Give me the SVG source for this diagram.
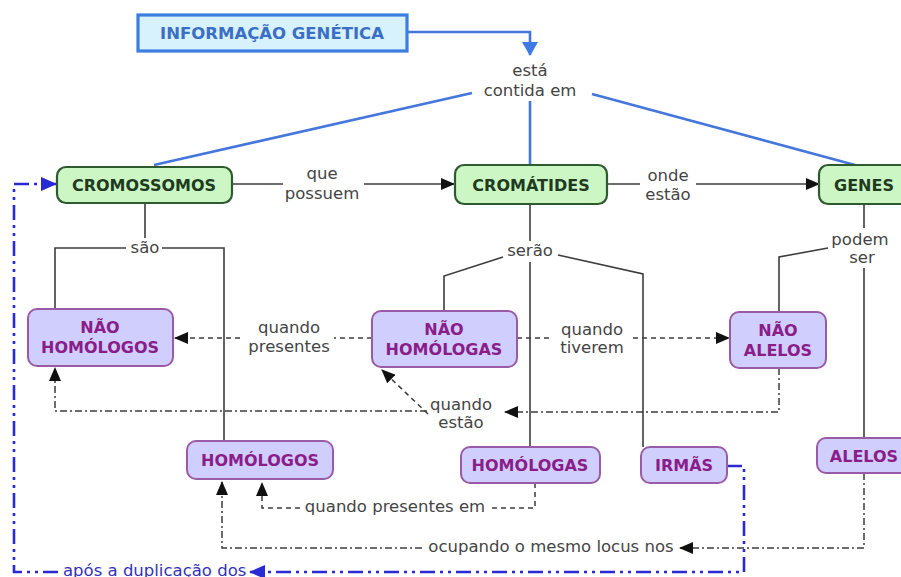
<svg xmlns="http://www.w3.org/2000/svg" width="901" height="577" viewBox="0 0 901 577">
<style>
text{font-family:"DejaVu Sans","Verdana",sans-serif;}
.lbl{font-size:16.5px;fill:#444;text-anchor:middle;}
.ng rect{fill:#ccf6c4;stroke:#2f5a2f;stroke-width:2.2;}
.ng text{font-size:16px;font-weight:bold;fill:#1f3b1f;text-anchor:middle;}
.np rect{fill:#d0cefc;stroke:#9a5ba6;stroke-width:2;}
.np text{font-size:16px;font-weight:bold;fill:#8a1d8a;text-anchor:middle;}
.c{fill:none;stroke:#3d3d3d;stroke-width:1.6;}
.cb{fill:none;stroke:#4576dc;stroke-width:2.6;}
.d{fill:none;stroke:#3d3d3d;stroke-width:1.5;stroke-dasharray:5,4;}
.dd{fill:none;stroke:#3d3d3d;stroke-width:1.5;stroke-dasharray:7,3,2,3;}
.bd{fill:none;stroke:#2a2ad2;stroke-width:2.6;stroke-dasharray:15,5,3,5,3,5;}
</style>
<defs>
<marker id="ak" markerUnits="userSpaceOnUse" markerWidth="14" markerHeight="12" refX="13" refY="6" orient="auto">
<path d="M0,0 L14,6 L0,12 z" fill="#111"/>
</marker>
<marker id="ab" markerUnits="userSpaceOnUse" markerWidth="16" markerHeight="14" refX="15" refY="7" orient="auto">
<path d="M0,0 L16,7 L0,14 z" fill="#2a2ad2"/>
</marker>
<marker id="at" markerUnits="userSpaceOnUse" markerWidth="14" markerHeight="16" refX="13" refY="8" orient="auto">
<path d="M0,0 L14,8 L0,16 z" fill="#3d7ae6"/>
</marker>
</defs>

<g id="connectors">
<!-- top blue -->
<polyline class="cb" points="407,32 530,32 530,55" marker-end="url(#at)"/>
<line class="cb" x1="472" y1="93" x2="154" y2="165"/>
<line class="cb" x1="530" y1="101" x2="530" y2="165"/>
<line class="cb" x1="592" y1="94" x2="855" y2="165"/>
<text class="lbl" x="530" y="76">está</text>
<text class="lbl" x="530" y="96">contida em</text>

<!-- que possuem -->
<line class="c" x1="232" y1="184" x2="283" y2="184"/>
<line class="c" x1="364" y1="184" x2="454" y2="184" marker-end="url(#ak)"/>
<text class="lbl" x="322" y="179">que</text>
<text class="lbl" x="322" y="199">possuem</text>

<!-- onde estão -->
<line class="c" x1="607" y1="184" x2="640" y2="184"/>
<line class="c" x1="696" y1="184" x2="819" y2="184" marker-end="url(#ak)"/>
<text class="lbl" x="668" y="181">onde</text>
<text class="lbl" x="668" y="200">estão</text>

<!-- são -->
<line class="c" x1="145" y1="203" x2="145" y2="238"/>
<polyline class="c" points="126,248 55,248 55,309"/>
<polyline class="c" points="162,248 224,248 224,441"/>
<text class="lbl" x="145" y="253">são</text>

<!-- serão -->
<line class="c" x1="530" y1="204" x2="530" y2="241"/>
<line class="c" x1="530" y1="262" x2="530" y2="447"/>
<polyline class="c" points="503,257 444,276 444,311"/>
<polyline class="c" points="558,255 643,274 643,447"/>
<text class="lbl" x="530" y="256">serão</text>

<!-- podem ser -->
<line class="c" x1="864" y1="205" x2="864" y2="228"/>
<line class="c" x1="864" y1="268" x2="864" y2="438"/>
<polyline class="c" points="828,248 779,257 779,312"/>
<text class="lbl" x="860" y="245">podem</text>
<text class="lbl" x="862" y="263">ser</text>

<!-- quando presentes -->
<line class="d" x1="372" y1="338" x2="334" y2="338"/>
<line class="d" x1="240" y1="338" x2="175" y2="338" marker-end="url(#ak)"/>
<text class="lbl" x="289" y="333">quando</text>
<text class="lbl" x="289" y="352">presentes</text>

<!-- quando tiverem -->
<line class="d" x1="517" y1="338" x2="550" y2="338"/>
<line class="d" x1="633" y1="338" x2="729" y2="338" marker-end="url(#ak)"/>
<text class="lbl" x="592" y="335">quando</text>
<text class="lbl" x="592" y="353">tiverem</text>

<!-- quando estão -->
<polyline class="dd" points="779,368 779,412 505,412" marker-end="url(#ak)"/>
<polyline class="dd" points="427,411 55,411 55,368" marker-end="url(#ak)"/>
<line class="d" x1="428" y1="414" x2="382" y2="370" marker-end="url(#ak)"/>
<text class="lbl" x="461" y="410">quando</text>
<text class="lbl" x="461" y="428">estão</text>

<!-- quando presentes em -->
<polyline class="d" points="535,483 535,508 491,508"/>
<polyline class="d" points="300,508 262,508 262,483" marker-end="url(#ak)"/>
<text class="lbl" x="395" y="512">quando presentes em</text>

<!-- ocupando o mesmo locus nos -->
<polyline class="dd" points="864,473 864,548 680,548" marker-end="url(#ak)"/>
<polyline class="dd" points="422,548 222,548 222,482" marker-end="url(#ak)"/>
<text class="lbl" x="551" y="552">ocupando o mesmo locus nos</text>

<!-- após a duplicação dos -->
<polyline class="bd" points="727,466 744,466 744,572 250,572" marker-end="url(#ab)"/>
<polyline class="bd" points="58,572 14,572 14,184 56,184" marker-end="url(#ab)"/>
<text x="63" y="576" style="font-size:16.5px;fill:#3232b8;">após a duplicação dos</text>
</g>

<g id="n-info">
<rect x="138" y="15" width="269" height="36" fill="#d7f1fd" stroke="#3c7ee0" stroke-width="3.2"/>
<text x="272" y="39" style="font-size:16.5px;font-weight:bold;fill:#3b6fc6;text-anchor:middle;">INFORMAÇÃO GENÉTICA</text>
</g>

<g id="n-cromossomos" class="ng">
<rect x="57" y="167" width="175" height="36" rx="9"/>
<text x="144" y="191">CROMOSSOMOS</text>
</g>
<g id="n-cromatides" class="ng">
<rect x="455" y="165" width="152" height="39" rx="9"/>
<text x="531" y="191">CROMÁTIDES</text>
</g>
<g id="n-genes" class="ng">
<rect x="819" y="165" width="92" height="39" rx="9"/>
<text x="864" y="191">GENES</text>
</g>

<g id="n-nao-homologos" class="np">
<rect x="28" y="309" width="145" height="57" rx="9"/>
<text x="100" y="333">NÃO</text>
<text x="100" y="353">HOMÓLOGOS</text>
</g>
<g id="n-nao-homologas" class="np">
<rect x="372" y="311" width="145" height="56" rx="9"/>
<text x="444" y="335">NÃO</text>
<text x="444" y="355">HOMÓLOGAS</text>
</g>
<g id="n-nao-alelos" class="np">
<rect x="730" y="312" width="96" height="56" rx="9"/>
<text x="778" y="336">NÃO</text>
<text x="778" y="356">ALELOS</text>
</g>
<g id="n-homologos" class="np">
<rect x="187" y="441" width="146" height="38" rx="9"/>
<text x="260" y="466">HOMÓLOGOS</text>
</g>
<g id="n-homologas" class="np">
<rect x="461" y="447" width="139" height="36" rx="9"/>
<text x="530" y="471">HOMÓLOGAS</text>
</g>
<g id="n-irmas" class="np">
<rect x="641" y="447" width="86" height="36" rx="9"/>
<text x="684" y="471">IRMÃS</text>
</g>
<g id="n-alelos" class="np">
<rect x="817" y="438" width="92" height="35" rx="9"/>
<text x="864" y="462">ALELOS</text>
</g>
</svg>
